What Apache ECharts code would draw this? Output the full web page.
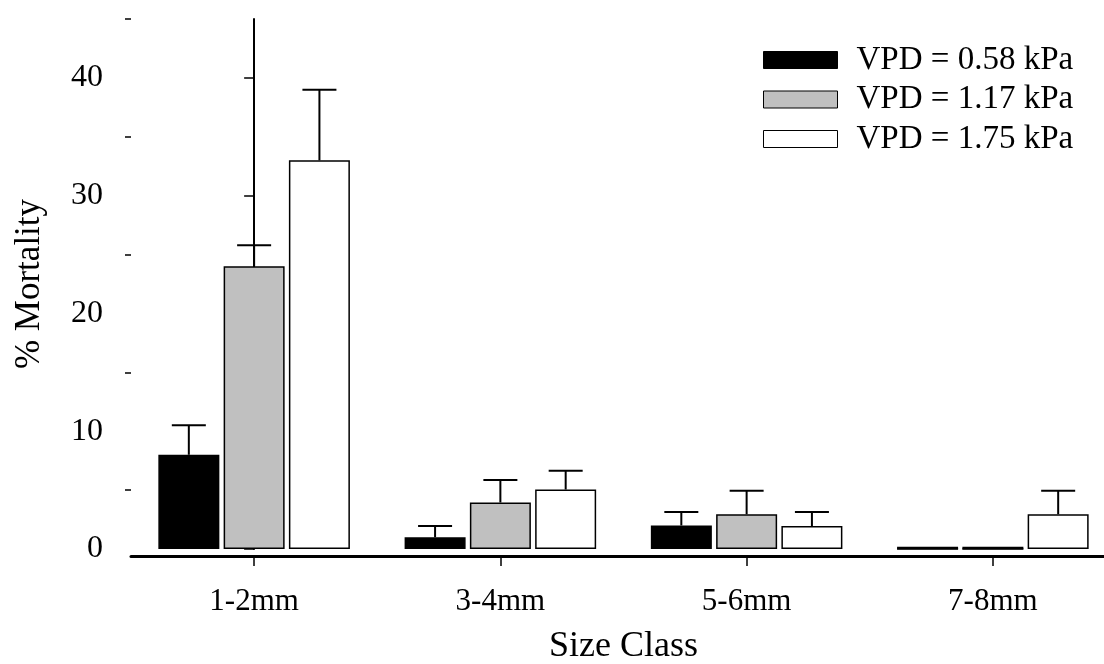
<!DOCTYPE html>
<html><head><meta charset="utf-8">
<script src="https://cdn.jsdelivr.net/npm/echarts@6/dist/echarts.min.js"></script>
<style>html,body{margin:0;padding:0;background:#fff}#c{width:1104px;height:664px}</style>
</head><body><div id="c"></div>
<script>
const categories = ['1-2mm', '3-4mm', '5-6mm', '7-8mm'];
const seriesNames = ['VPD = 0.58 kPa', 'VPD = 1.17 kPa', 'VPD = 1.75 kPa'];
const vpd058 = [8, 1, 2, 0];
const vpd117 = [24, 3.95, 2.95, 0];
const vpd175 = [33, 5.05, 1.95, 2.95];
const err058 = [2.5, 0.95, 1.15, 0];
const err117 = [1.8, 1.9, 2.0, 0];
const err175 = [6, 1.6, 1.2, 2.0];
const yMajorTicks = [0, 10, 20, 30, 40];
const yMinorTicks = [5, 15, 25, 35, 45];
const xTickPositions = [0, 1, 2, 3];

const FONT = 'Liberation Serif';
const BAR_W = 61, GAP = 4.3, CAP_W = 34, X_OFFSET = 7;
const fills = ['#000000', '#c0c0c0', '#ffffff'];
const values = [vpd058, vpd117, vpd175];
const errs = [err058, err117, err175];

const chart = echarts.init(document.getElementById('c'), null, {renderer: 'canvas'});

const barSeries = values.map((vals, si) => ({
  type: 'bar', name: seriesNames[si], data: vals, xAxisIndex: 0, yAxisIndex: 0,
  barWidth: BAR_W, barGap: (GAP / BAR_W * 100).toFixed(1) + '%',
  itemStyle: {color: fills[si], borderColor: '#000', borderWidth: 1.5},
  emphasis: {disabled: true}, animation: false
}));

const errSeries = values.map((vals, si) => {
  const offset = (si - 1) * (BAR_W + GAP);
  return {
    type: 'custom', name: seriesNames[si] + ' SE', z: 3, animation: false, clip: false,
    xAxisIndex: 0, yAxisIndex: 0,
    data: vals.map((v, i) => [i, v, v + errs[si][i], errs[si][i]]),
    encode: {x: 0, y: [1, 2]},
    renderItem: (params, api) => {
      const base = api.coord([api.value(0), api.value(1)]);
      const x = base[0] + offset;
      const hw = CAP_W / 2;
      if (api.value(1) <= 0) {
        return {type: 'line', shape: {x1: x - BAR_W / 2, y1: base[1] - 1, x2: x + BAR_W / 2, y2: base[1] - 1},
                style: {stroke: '#000', lineWidth: 2.5}};
      }
      if (api.value(3) <= 0) return null;
      const top = api.coord([api.value(0), api.value(2)]);
      return {type: 'group', children: [
        {type: 'line', shape: {x1: x, y1: base[1], x2: x, y2: top[1]}, style: {stroke: '#000', lineWidth: 2}},
        {type: 'line', shape: {x1: x - hw, y1: top[1], x2: x + hw, y2: top[1]}, style: {stroke: '#000', lineWidth: 2}}
      ]};
    }
  };
});

chart.setOption({
  animation: false,
  backgroundColor: '#fff',
  grid: {left: 131, right: -12, top: 19, bottom: 115, containLabel: false, outerBoundsMode: 'none'},
  legend: {
    data: seriesNames, orient: 'vertical', left: 758, top: 38.5,
    icon: 'rect', itemWidth: 74, itemHeight: 17, itemGap: 6.5,
    itemStyle: {borderColor: '#000', borderWidth: 1},
    textStyle: {fontFamily: FONT, fontSize: 33, lineHeight: 33, color: '#000', padding: [0, 0, 0, 14]},
    selectedMode: false
  },
  xAxis: [
    {
      type: 'category', data: categories, offset: X_OFFSET, position: 'bottom',
      axisLine: {onZero: false, lineStyle: {color: '#000', width: 3}},
      axisTick: {show: false},
      axisLabel: {fontFamily: FONT, fontSize: 31, color: '#000', margin: 30},
      name: 'Size Class', nameLocation: 'middle', nameGap: 73,
      nameTextStyle: {fontFamily: FONT, fontSize: 36, color: '#000'}
    },
    {
      // value axis spanning the same bands, used only to draw the category tick marks
      type: 'value', min: -0.5, max: 3.5, offset: X_OFFSET, position: 'bottom',
      axisLine: {show: false, onZero: false},
      axisTick: {show: true, customValues: xTickPositions, length: 10, lineStyle: {color: '#000', width: 1.5}},
      axisLabel: {show: false},
      splitLine: {show: false}
    }
  ],
  yAxis: [
    {
      type: 'value', min: 0, max: 45, position: 'left',
      axisLine: {show: true, lineStyle: {color: '#000', width: 2}},
      axisTick: {show: true, customValues: yMajorTicks, length: 10, lineStyle: {color: '#000', width: 1.5}},
      axisLabel: {customValues: yMajorTicks, fontFamily: FONT, fontSize: 32, color: '#000', margin: 28},
      splitLine: {show: false},
      name: '% Mortality', nameLocation: 'middle', nameGap: 84,
      nameTextStyle: {fontFamily: FONT, fontSize: 35, color: '#000'}
    },
    {
      type: 'value', min: 0, max: 45, position: 'left',
      axisLine: {show: false},
      axisTick: {show: true, customValues: yMinorTicks, length: 6, lineStyle: {color: '#000', width: 1.5}},
      axisLabel: {show: false},
      splitLine: {show: false}
    }
  ],
  series: barSeries.concat(errSeries)
});
</script></body></html>
